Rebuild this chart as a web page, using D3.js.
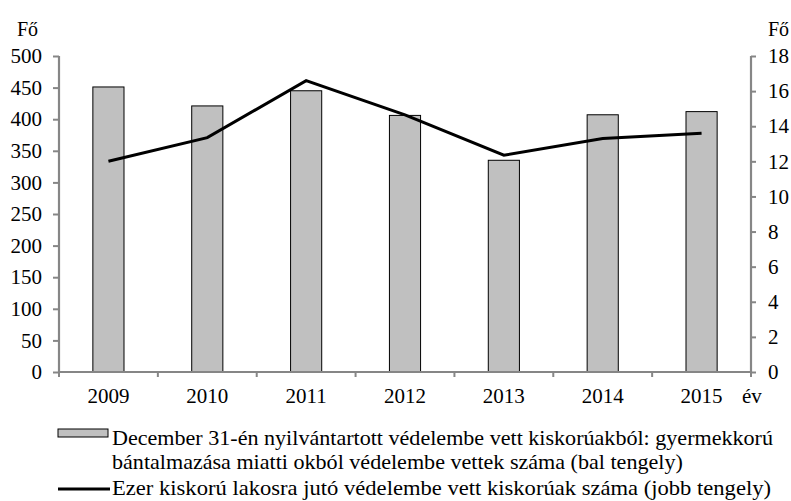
<!DOCTYPE html>
<html>
<head>
<meta charset="utf-8">
<script src="https://cdn.jsdelivr.net/npm/d3@7"></script>
<style>
  body { margin: 0; background: #fff; }
  text { font-family: "Liberation Serif", "Times New Roman", serif; fill: #000; }
</style>
</head>
<body>
<div id="chart"></div>
<script>
// data
let years = ["2009", "2010", "2011", "2012", "2013", "2014", "2015"];
let protectedCount = [451, 421, 445, 406, 335, 407, 412];   // bars, left axis
let perThousand = [12.0, 13.35, 16.6, 14.65, 12.35, 13.3, 13.6]; // line, right axis
let leftTicks = [0, 50, 100, 150, 200, 250, 300, 350, 400, 450, 500];
let rightTicks = [0, 2, 4, 6, 8, 10, 12, 14, 16, 18];
let legendBar = ["December 31-én nyilvántartott védelembe vett kiskorúakból: gyermekkorú",
                 "bántalmazása miatti okból védelembe vettek száma (bal tengely)"];
let legendLine = "Ezer kiskorú lakosra jutó védelembe vett kiskorúak száma (jobb tengely)";

let W = 791, H = 501;
let plot = {left: 59, right: 751, top: 56, bottom: 372};
let axisColor = "#868686";
let serif = "'Liberation Serif', 'Times New Roman', serif";

let svg = d3.select("#chart")
    .append("svg")
    .attr("width", W)
    .attr("height", H);

// scales
let x = d3.scaleBand()
    .domain(years)
    .range([plot.left, plot.right])
    .padding(0);
let yLeft = d3.scaleLinear().domain([0, 500]).range([plot.bottom, plot.top]);
let yRight = d3.scaleLinear().domain([0, 18]).range([plot.bottom, plot.top]);

let barW = x.bandwidth() * 0.315;

// bars
svg.selectAll("rect.bar")
    .data(years)
    .enter()
    .append("rect")
    .attr("class", "bar")
    .attr("x", function(d) { return x(d) + (x.bandwidth() - barW) / 2; })
    .attr("y", function(d, i) { return yLeft(protectedCount[i]); })
    .attr("width", barW)
    .attr("height", function(d, i) { return plot.bottom - yLeft(protectedCount[i]); })
    .attr("fill", "#c0c0c0")
    .attr("stroke", "#000")
    .attr("stroke-width", 1);

// left axis
let gLeft = svg.append("g")
    .attr("transform", "translate(" + plot.left + ",0)")
    .call(d3.axisLeft(yLeft).tickValues(leftTicks).tickSize(6).tickPadding(11));

// right axis
let gRight = svg.append("g")
    .attr("transform", "translate(" + plot.right + ",0)")
    .call(d3.axisRight(yRight).tickValues(rightTicks).tickSize(5).tickPadding(12));

// x axis with ticks at category boundaries
let gX = svg.append("g")
    .attr("transform", "translate(0," + plot.bottom + ")")
    .call(d3.axisBottom(x).tickSize(0).tickPadding(16));
gX.selectAll(".bound")
    .data(years.concat(["end"]))
    .enter()
    .append("line")
    .attr("class", "bound")
    .attr("x1", function(d, i) { return i < years.length ? x(d) : plot.right; })
    .attr("x2", function(d, i) { return i < years.length ? x(d) : plot.right; })
    .attr("y1", 0)
    .attr("y2", 5)
    .attr("stroke", axisColor)
    .attr("stroke-width", 2);

// style axes
[gLeft, gRight, gX].forEach(function(g) {
    g.selectAll(".domain").attr("stroke", axisColor).attr("stroke-width", 2.2);
    g.selectAll(".tick line").attr("stroke", axisColor).attr("stroke-width", 2);
    g.selectAll("text")
        .style("font-family", serif)
        .style("font-size", "21px")
        .attr("fill", "#000");
});
gLeft.selectAll(".domain").attr("d", "M0," + plot.top + "V" + plot.bottom);
gRight.selectAll(".domain").attr("d", "M0," + plot.top + "V" + plot.bottom);
gX.selectAll(".domain").attr("d", "M" + plot.left + ",0H" + plot.right);

// line
svg.append("path")
    .datum(years)
    .attr("fill", "none")
    .attr("stroke", "#000")
    .attr("stroke-width", 3)
    .attr("stroke-linejoin", "miter")
    .attr("d", d3.line()
        .x(function(d) { return x(d) + x.bandwidth() / 2; })
        .y(function(d, i) { return yRight(perThousand[i]); })
    );

// unit labels
svg.append("text").attr("x", 17).attr("y", 36)
    .style("font-size", "20px").text("Fő");
svg.append("text").attr("x", 768).attr("y", 36)
    .style("font-size", "20px").text("Fő");
svg.append("text").attr("x", 742).attr("y", 403)
    .style("font-size", "21px").text("év");

// legend
svg.append("rect")
    .attr("x", 58).attr("y", 429)
    .attr("width", 50).attr("height", 8)
    .attr("fill", "#c0c0c0")
    .attr("stroke", "#000")
    .attr("stroke-width", 1);

svg.append("line")
    .attr("x1", 58).attr("x2", 110)
    .attr("y1", 489).attr("y2", 489)
    .attr("stroke", "#000")
    .attr("stroke-width", 3);

// legend texts: first and last line fitted to the reference width,
// the middle one gets the same squeeze as the first
let legendTexts = [
    {t: legendBar[0], y: 445, w: 661},
    {t: legendBar[1], y: 469, w: null},
    {t: legendLine, y: 495, w: 659}
];
let lt = svg.selectAll("text.leg")
    .data(legendTexts)
    .enter()
    .append("text")
    .attr("class", "leg")
    .attr("x", 112)
    .attr("y", function(d) { return d.y; })
    .style("font-size", "21px")
    .text(function(d) { return d.t; });
let squeeze = 661 / lt.nodes()[0].getComputedTextLength();
lt.each(function(d) {
    let len = d.w ? d.w : this.getComputedTextLength() * squeeze;
    d3.select(this)
        .attr("textLength", len)
        .attr("lengthAdjust", "spacingAndGlyphs");
});
</script>
</body>
</html>
